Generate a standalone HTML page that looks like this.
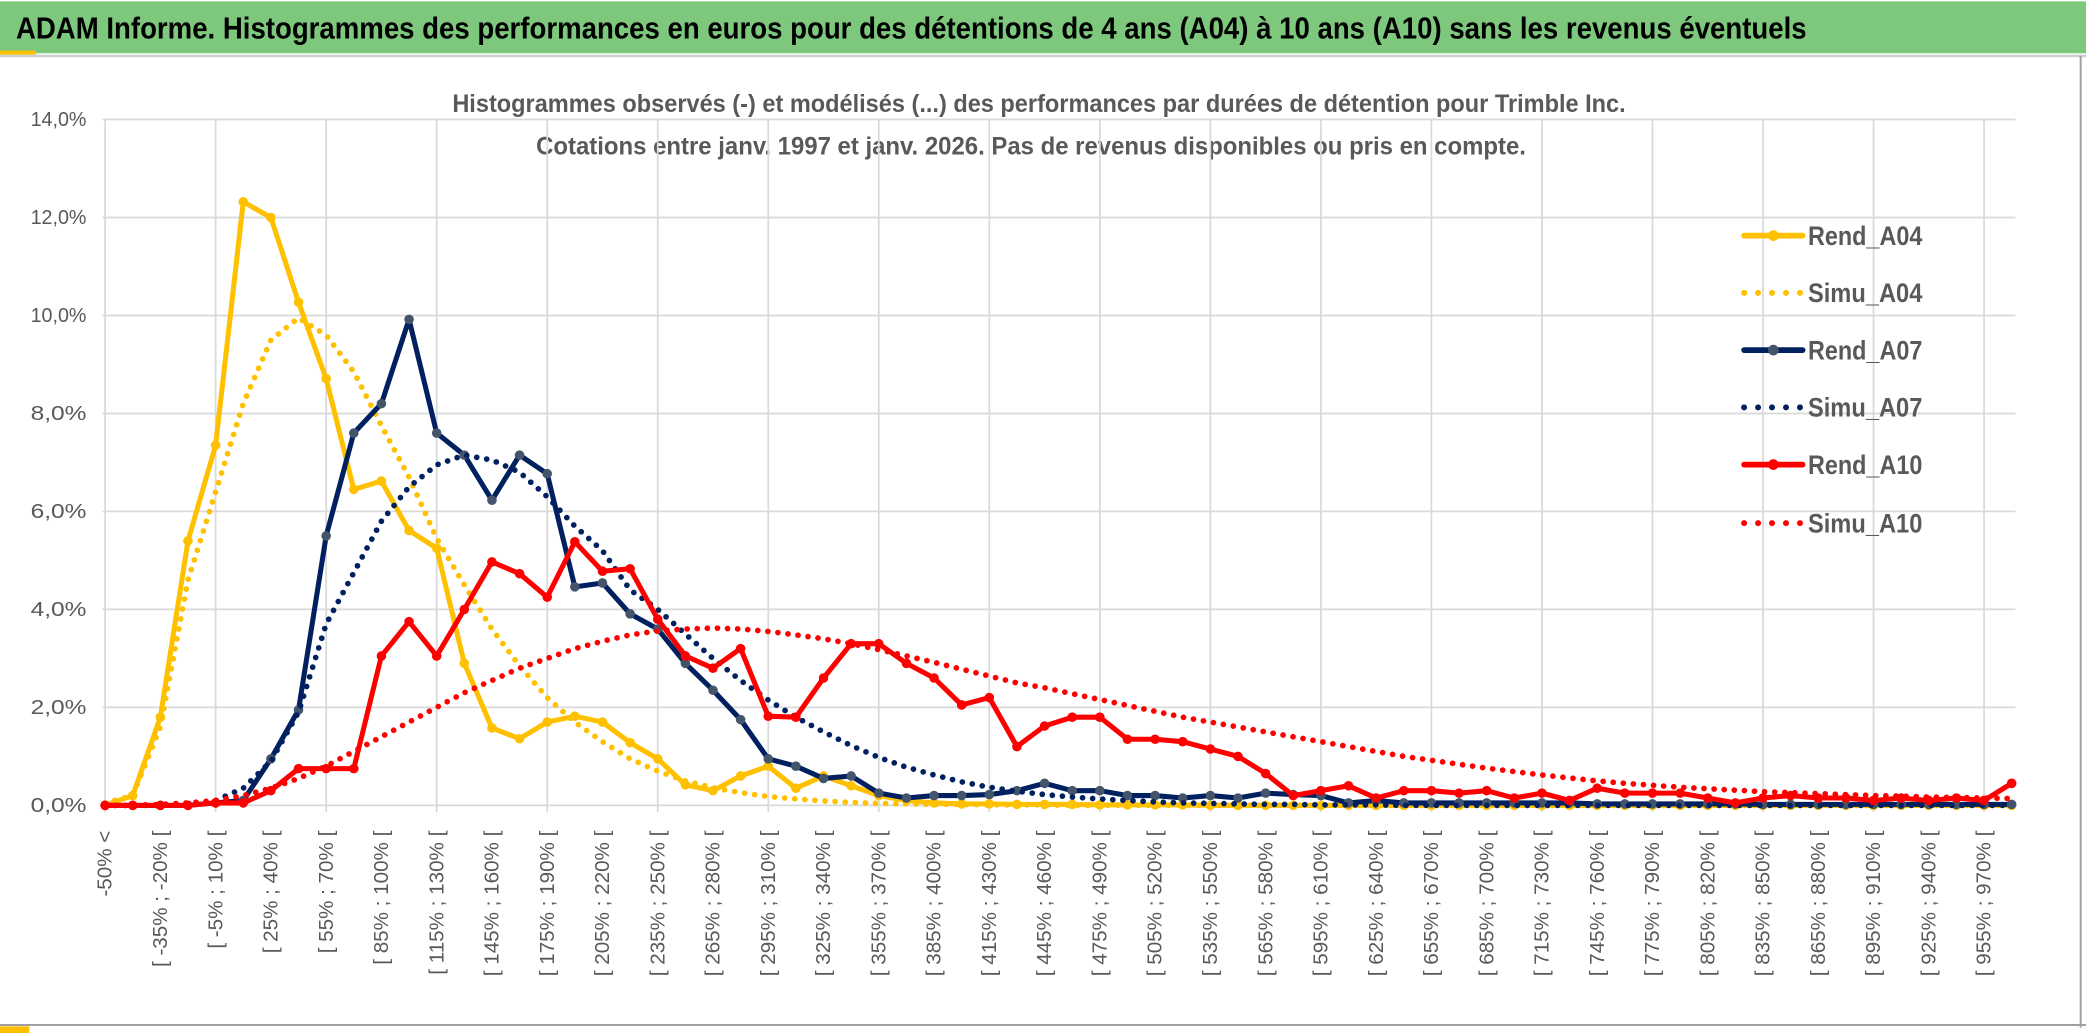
<!DOCTYPE html>
<html><head><meta charset="utf-8"><style>
html,body{margin:0;padding:0;background:#fff;}
svg{display:block;font-family:"Liberation Sans",sans-serif;}
</style></head><body>
<svg id="chart" width="2086" height="1033" viewBox="0 0 1568 776" preserveAspectRatio="none" xmlns="http://www.w3.org/2000/svg">
  <rect x="0" y="0" width="1568" height="776" fill="#fff"/>
  <rect x="0" y="1" width="1568" height="39" fill="#7dc87d"/>
  <line x1="0" y1="42" x2="1568" y2="42" stroke="#d0d0d0" stroke-width="2"/>
  <rect x="0" y="38" width="27" height="3" fill="#ffc000"/>
  <text x="12" y="29" font-size="23" font-weight="bold" fill="#000" textLength="1346" lengthAdjust="spacingAndGlyphs">ADAM Informe. Histogrammes des performances en euros pour des détentions de 4 ans (A04) à 10 ans (A10) sans les revenus éventuels</text>
  <line x1="1564" y1="42" x2="1564" y2="772" stroke="#a0a0a0" stroke-width="1.5"/>
  <line x1="0" y1="770" x2="1568" y2="770" stroke="#a0a0a0" stroke-width="1.5"/>
  <rect x="0" y="771" width="22" height="5" fill="#ffc000"/>
  <text x="781" y="84" font-size="19" font-weight="bold" fill="#595959" text-anchor="middle" textLength="882" lengthAdjust="spacingAndGlyphs">Histogrammes observés (-) et modélisés (...) des performances par durées de détention pour Trimble Inc.</text>
  <text x="775" y="116" font-size="19" font-weight="bold" fill="#595959" text-anchor="middle" textLength="744" lengthAdjust="spacingAndGlyphs">Cotations entre janv. 1997 et janv. 2026. Pas de revenus disponibles ou pris en compte.</text>
  <g id="grid"></g>
  <g id="yticks"></g>
  <g id="xticks"></g>
  <g id="series"></g>
  <g id="legend"></g>
</svg>
<script>
const yTicks = [0,2,4,6,8,10,12,14];
const rendA04 = [0,0.2,1.8,5.4,7.35,12.32,12.0,10.27,8.71,6.45,
 6.62,5.61,5.25,2.9,1.58,1.36,1.7,1.82,1.7,1.28,
 0.95,0.42,0.3,0.6,0.8,0.35,0.6,0.4,0.2,0.1,
 0.05,0.03,0.03,0.02,0.02,0.02,0.01,0.01,0.01,0.01,
 0,0,0,0,0,0,0,0,0,0, 0,0,0,0,0,0,0,0,0,0, 0,0,0,0,0,0,0,0,0,0];
const simuA04 = [0.05,0.2,1.6,4.6,6.4,8.2,9.5,9.95,9.6,8.85,
 7.75,6.7,5.45,4.5,3.6,2.85,2.2,1.7,1.3,0.95,
 0.7,0.5,0.36,0.26,0.18,0.13,0.09,0.06,0.04,0.03,
 0.02,0.02,0.01,0.01,0.01,0,0,0,0,0,
 0,0,0,0,0,0,0,0,0,0, 0,0,0,0,0,0,0,0,0,0, 0,0,0,0,0,0,0,0,0,0];
const rendA07 = [0,0,0,0,0.05,0.1,0.95,1.95,5.5,7.6,
 8.2,9.92,7.6,7.15,6.23,7.15,6.77,4.46,4.54,3.91,
 3.6,2.9,2.35,1.75,0.95,0.8,0.55,0.6,0.25,0.15,
 0.2,0.2,0.22,0.3,0.45,0.3,0.3,0.2,0.2,0.15,
 0.2,0.15,0.25,0.22,0.2,0.05,0.1,0.05,0.05,0.05,
 0.05,0.05,0.05,0.05,0.03,0.03,0.03,0.03,0.03,0.03,
 0.02,0.02,0.02,0.02,0.02,0.02,0.02,0.02,0.02,0.02];
const simuA07 = [0,0,0,0.02,0.1,0.35,0.9,1.9,3.7,4.75,
 5.8,6.5,6.95,7.15,7.05,6.8,6.3,5.7,5.2,4.4,
 4.0,3.5,3.0,2.55,2.15,1.8,1.5,1.22,0.98,0.78,
 0.62,0.48,0.37,0.29,0.22,0.17,0.13,0.1,0.07,0.05,
 0.04,0.03,0.02,0.02,0.01,0.01,0.01,0,0,0,
 0,0,0,0,0,0,0,0,0,0, 0,0,0,0,0,0,0,0,0,0];
const rendA10 = [0,0,0,0,0.05,0.05,0.3,0.75,0.75,0.75,
 3.05,3.75,3.05,4.0,4.97,4.73,4.25,5.38,4.78,4.83,
 3.8,3.05,2.8,3.2,1.82,1.8,2.6,3.3,3.3,2.9,
 2.6,2.05,2.2,1.2,1.62,1.8,1.8,1.35,1.35,1.3,
 1.15,1.0,0.65,0.2,0.3,0.4,0.15,0.3,0.3,0.25,
 0.3,0.15,0.25,0.1,0.35,0.25,0.25,0.25,0.15,0.05,
 0.15,0.2,0.15,0.15,0.1,0.15,0.1,0.15,0.1,0.45];
const simuA10 = [0,0,0.02,0.05,0.1,0.2,0.35,0.55,0.8,1.1,
 1.4,1.7,2.0,2.3,2.55,2.8,3.0,3.2,3.35,3.48,
 3.56,3.6,3.62,3.6,3.55,3.48,3.4,3.3,3.18,3.05,
 2.92,2.78,2.64,2.5,2.4,2.28,2.16,2.04,1.92,1.8,
 1.7,1.6,1.5,1.4,1.3,1.2,1.1,1.0,0.92,0.84,
 0.76,0.69,0.62,0.56,0.5,0.45,0.41,0.37,0.34,0.31,
 0.28,0.26,0.24,0.22,0.2,0.19,0.17,0.16,0.15,0.14];
const binStarts = [];
for (let k = 0; k < 70; k++) binStarts.push(-65 + 15 * k);
const categories = binStarts.map((s, k) => k === 0 ? "-50% <" : "[ " + s + "% ; " + (s + 15) + "% [");

const NS = "http://www.w3.org/2000/svg";
const X0 = 79, DX = 20.77, Y0 = 605, YS = 36.8, XR = 1515;
const xPos = i => X0 + DX * i;
const yPos = v => Y0 - v * YS;
function mk(tag, attrs, parent) {
  const e = document.createElementNS(NS, tag);
  for (const k in attrs) e.setAttribute(k, attrs[k]);
  parent.appendChild(e);
  return e;
}
const grid = document.getElementById('grid');
yTicks.forEach(t => {
  const l = mk('line', {x1: 77, x2: XR, y1: yPos(t), y2: yPos(t), stroke: '#d9d9d9', 'stroke-width': 1.3}, grid);
  
  
  const tx = mk('text', {x: 65, y: yPos(t) + 5, 'font-size': 15, fill: '#595959', 'text-anchor': 'end', textLength: 42, lengthAdjust: 'spacingAndGlyphs'}, document.getElementById('yticks'));
  tx.textContent = t.toFixed(1).replace('.', ',') + '%';
  
  
});
for (let i = 0; i < categories.length; i += 4) {
  const l = mk('line', {x1: xPos(i), x2: xPos(i), y1: yPos(14), y2: Y0 + 5, stroke: '#d9d9d9', 'stroke-width': 1.3}, grid);
  
  
}
const xt = document.getElementById('xticks');
for (let i = 0; i < categories.length; i += 2) {
  const x = xPos(i) + 5, y = 624;
  const tx = mk('text', {x: x, y: y, 'font-size': 15.5, fill: '#595959', 'text-anchor': 'end', transform: 'rotate(-90 ' + x + ' ' + y + ')'}, xt);
  tx.textContent = categories[i];
  
  
}
const seriesDefs = [
  {name: 'Rend_A04', data: rendA04, color: '#ffc000', marker: '#ffc000', dotted: false},
  {name: 'Simu_A04', data: simuA04, color: '#ffc000', dotted: true},
  {name: 'Rend_A07', data: rendA07, color: '#002060', marker: '#44546a', dotted: false},
  {name: 'Simu_A07', data: simuA07, color: '#002060', dotted: true},
  {name: 'Rend_A10', data: rendA10, color: '#ff0000', marker: '#ff0000', dotted: false},
  {name: 'Simu_A10', data: simuA10, color: '#ff0000', dotted: true}
];
const sg = document.getElementById('series');
const lg = document.getElementById('legend');
const legendY = [177, 220, 263, 306, 349, 393];
seriesDefs.forEach((s, si) => {
  const g = mk('g', {}, sg);
  
  
  const pts = s.data.map((v, i) => xPos(i).toFixed(2) + ',' + yPos(v).toFixed(2)).join(' ');
  const attrs = {points: pts, fill: 'none', stroke: s.color, 'stroke-width': s.dotted ? 4.3 : 3.8, 'stroke-linejoin': 'round', 'stroke-linecap': 'round'};
  if (s.dotted) attrs['stroke-dasharray'] = '0 7.6';
  const pl = mk('polyline', attrs, g);
  
  
  if (!s.dotted) {
    s.data.forEach((v, i) => {
      const c = mk('circle', {cx: xPos(i), cy: yPos(v), r: 3.6, fill: s.marker}, g);
      
      
    });
  }
  const ly = legendY[si];
  const le = mk('g', {}, lg);
  
  
  const la = {x1: 1311, x2: 1355, y1: ly, y2: ly, stroke: s.color, 'stroke-width': s.dotted ? 4.5 : 4.3, 'stroke-linecap': 'round'};
  if (s.dotted) la['stroke-dasharray'] = '0 10.5';
  mk('line', la, le);
  if (!s.dotted) mk('circle', {cx: 1333, cy: ly, r: 4, fill: s.marker}, le);
  const t = mk('text', {x: 1359, y: ly + 7, 'font-size': 20, 'font-weight': 'bold', fill: '#595959', textLength: 86, lengthAdjust: 'spacingAndGlyphs'}, le);
  t.textContent = s.name;
});
</script>
</body></html>
